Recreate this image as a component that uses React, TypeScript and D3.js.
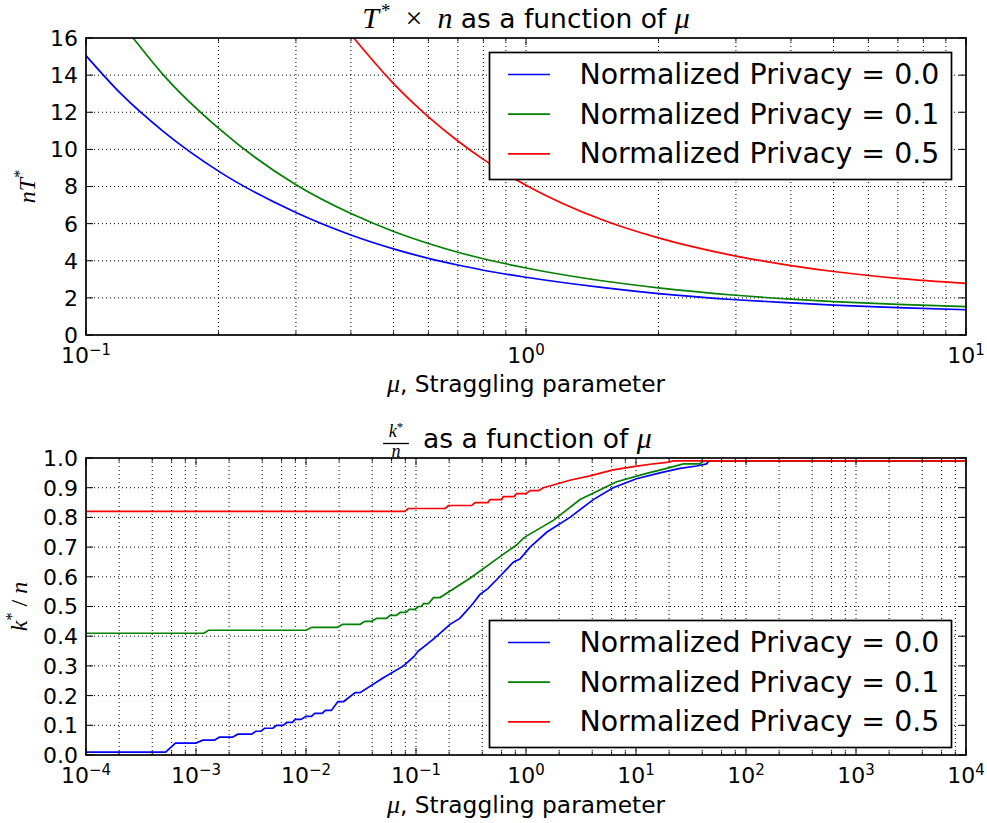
import { useEffect, useRef } from 'react';
import * as d3 from 'd3';

const SANS = '"DejaVu Sans", sans-serif';
const MATH = '"Liberation Serif", "DejaVu Serif", serif';

const seriesNames = ['Normalized Privacy = 0.0', 'Normalized Privacy = 0.1', 'Normalized Privacy = 0.5'];
const seriesColors = ['#0000ff', '#008000', '#ff0000'];

// top panel: nT* against mu
const topMuP0 = [0.1, 0.12, 0.15, 0.2, 0.3, 0.4, 0.5, 0.6, 0.7, 0.8, 1, 1.5, 2, 3, 4, 5, 7, 10];
const topNTP0 = [15.05, 13.0, 10.96, 8.83, 6.6, 5.39, 4.64, 4.13, 3.77, 3.49, 3.11, 2.55, 2.23, 1.9, 1.73, 1.61, 1.48, 1.36];
const topMuP1 = [0.128, 0.15, 0.2, 0.3, 0.4, 0.5, 0.6, 0.7, 0.8, 1, 1.5, 2, 3, 4, 5, 7, 10];
const topNTP1 = [16, 14.0, 11.14, 8.09, 6.54, 5.58, 4.93, 4.46, 4.11, 3.61, 2.91, 2.54, 2.14, 1.93, 1.8, 1.65, 1.53];
const topMuP5 = [0.406, 0.5, 0.6, 0.7, 0.8, 1, 1.5, 2, 3, 4, 5, 7, 10];
const topNTP5 = [16, 13.54, 11.75, 10.45, 9.46, 8.07, 6.18, 5.23, 4.25, 3.74, 3.42, 3.05, 2.78];

// bottom panel: k*/n against mu
const botMuP0 = [1e-4, 5.3e-4, 6.5e-4, 1.0e-3, 1.15e-3, 1.47e-3, 1.63e-3, 2.15e-3, 2.4e-3, 3.2e-3, 3.5e-3, 3.9e-3, 4.2e-3, 5.0e-3, 5.4e-3, 6.2e-3, 6.7e-3, 7.5e-3, 8.0e-3, 9.0e-3, 1.0e-2, 1.12e-2, 1.2e-2, 1.4e-2, 1.5e-2, 1.7e-2, 1.95e-2, 2.2e-2, 2.8e-2, 3.1e-2, 5.05e-2, 7.7e-2, 9.5e-2, 0.105, 0.144, 0.177, 0.204, 0.25, 0.28, 0.33, 0.38, 0.45, 0.54, 0.77, 0.88, 1.09, 1.17, 1.54, 2.51, 4.09, 6.2, 10.1, 16.5, 25.1, 35.6, 43.7, 46, 1e4];
const botKP0 = [0.01, 0.01, 0.04, 0.04, 0.05, 0.05, 0.06, 0.06, 0.07, 0.07, 0.08, 0.08, 0.09, 0.09, 0.1, 0.1, 0.11, 0.11, 0.12, 0.12, 0.13, 0.13, 0.14, 0.14, 0.15, 0.15, 0.18, 0.18, 0.21, 0.21, 0.26, 0.3, 0.33, 0.35, 0.39, 0.42, 0.44, 0.46, 0.48, 0.51, 0.54, 0.56, 0.59, 0.65, 0.66, 0.7, 0.71, 0.75, 0.8, 0.86, 0.9, 0.93, 0.95, 0.965, 0.973, 0.98, 0.99, 0.99];
const botMuP1 = [1e-4, 1.18e-3, 1.3e-3, 1.0e-2, 1.13e-2, 1.93e-2, 2.15e-2, 3.1e-2, 3.43e-2, 3.95e-2, 4.4e-2, 5.4e-2, 5.8e-2, 6.6e-2, 7.2e-2, 8.1e-2, 8.7e-2, 9.8e-2, 0.105, 0.112, 0.117, 0.13, 0.144, 0.165, 0.31, 0.58, 0.82, 0.95, 1.01, 1.77, 3.1, 5.05, 6.67, 12.5, 19, 27, 38, 41, 1e4];
const botKP1 = [0.41, 0.41, 0.42, 0.42, 0.43, 0.43, 0.44, 0.44, 0.45, 0.45, 0.46, 0.46, 0.47, 0.47, 0.48, 0.48, 0.49, 0.49, 0.5, 0.5, 0.51, 0.51, 0.53, 0.53, 0.595, 0.668, 0.707, 0.73, 0.737, 0.79, 0.86, 0.898, 0.92, 0.948, 0.965, 0.98, 0.98, 0.99, 0.99];
const botMuP5 = [1e-4, 7.9e-2, 8.5e-2, 0.184, 0.197, 0.32, 0.344, 0.45, 0.47, 0.6, 0.62, 0.78, 0.82, 1.0, 1.09, 1.3, 1.44, 1.8, 2.5, 3.8, 6.2, 9.5, 13.4, 19, 21.8, 1e4];
const botKP5 = [0.82, 0.82, 0.83, 0.83, 0.84, 0.84, 0.85, 0.85, 0.86, 0.86, 0.87, 0.87, 0.88, 0.88, 0.89, 0.89, 0.9, 0.91, 0.925, 0.94, 0.96, 0.971, 0.979, 0.985, 0.99, 0.99];

const topYTicks = [0, 2, 4, 6, 8, 10, 12, 14, 16];
const topXExponents = [-1, 0, 1];
const topMinorSubs = [2, 3, 4, 5, 6, 7, 8, 9];
const botYTicks = [0, 0.1, 0.2, 0.3, 0.4, 0.5, 0.6, 0.7, 0.8, 0.9, 1.0];
const botXExponents = [-4, -3, -2, -1, 0, 1, 2, 3, 4];
const botMinorSubs = [2, 4, 6, 8];

type Sel = d3.Selection<any, any, any, any>;

interface PanelOpts {
  id: string;
  top: number;
  bottom: number;
  exps: number[];
  subs: number[];
  yTicks: number[];
  yFmt: (v: number) => string;
  series: { mu: number[]; v: number[] }[];
  smooth: boolean;
  legendTop: number;
}

const LEFT = 86;
const RIGHT = 966;
const TICK_FS = 22;

function drawPanel(root: Sel, o: PanelOpts) {
  const x = d3.scaleLog()
    .domain([10 ** o.exps[0], 10 ** o.exps[o.exps.length - 1]])
    .range([LEFT, RIGHT]);
  const y = d3.scaleLinear()
    .domain([o.yTicks[0], o.yTicks[o.yTicks.length - 1]])
    .range([o.bottom, o.top]);

  const majors = o.exps.map(e => 10 ** e);
  const minors: number[] = [];
  for (let i = 0; i < o.exps.length - 1; i++) {
    for (const s of o.subs) minors.push(s * 10 ** o.exps[i]);
  }

  const g = root.append('g');
  g.append('clipPath').attr('id', o.id)
    .append('rect')
    .attr('x', LEFT).attr('y', o.top)
    .attr('width', RIGHT - LEFT).attr('height', o.bottom - o.top);

  // dotted grid, x on majors + minors, y on majors
  const grid = g.append('g')
    .attr('stroke', '#000')
    .attr('stroke-width', 1)
    .attr('stroke-dasharray', '1,3');
  grid.selectAll('line.gx')
    .data([...majors.slice(1, -1), ...minors])
    .join('line')
    .attr('x1', d => x(d)).attr('x2', d => x(d))
    .attr('y1', o.top).attr('y2', o.bottom);
  grid.selectAll('line.gy')
    .data(o.yTicks.slice(1, -1))
    .join('line')
    .attr('x1', LEFT).attr('x2', RIGHT)
    .attr('y1', d => y(d)).attr('y2', d => y(d));

  // curves
  const line = d3.line<[number, number]>()
    .x(d => x(d[0]))
    .y(d => y(d[1]))
    .curve(o.smooth ? d3.curveMonotoneX : d3.curveLinear);
  const curves = g.append('g').attr('clip-path', `url(#${o.id})`);
  o.series.forEach((s, i) => {
    const pts = s.mu.map((m, j) => [m, s.v[j]] as [number, number]);
    curves.append('path')
      .attr('d', line(pts))
      .attr('fill', 'none')
      .attr('stroke', seriesColors[i])
      .attr('stroke-width', 1.7);
  });

  // ticks pointing inwards on all four sides
  const ticks = g.append('g').attr('stroke', '#000').attr('stroke-width', 1);
  const xTicks = [...majors.map(v => ({ v, len: 7 })), ...minors.map(v => ({ v, len: 3.5 }))];
  xTicks.forEach(t => {
    ticks.append('line').attr('x1', x(t.v)).attr('x2', x(t.v)).attr('y1', o.bottom).attr('y2', o.bottom - t.len);
    ticks.append('line').attr('x1', x(t.v)).attr('x2', x(t.v)).attr('y1', o.top).attr('y2', o.top + t.len);
  });
  o.yTicks.forEach(v => {
    ticks.append('line').attr('x1', LEFT).attr('x2', LEFT + 7).attr('y1', y(v)).attr('y2', y(v));
    ticks.append('line').attr('x1', RIGHT).attr('x2', RIGHT - 7).attr('y1', y(v)).attr('y2', y(v));
  });

  // frame
  g.append('rect')
    .attr('x', LEFT).attr('y', o.top)
    .attr('width', RIGHT - LEFT).attr('height', o.bottom - o.top)
    .attr('fill', 'none').attr('stroke', '#000').attr('stroke-width', 1.7);

  // y tick labels
  g.append('g')
    .selectAll('text')
    .data(o.yTicks)
    .join('text')
    .attr('x', LEFT - 8)
    .attr('y', d => y(d))
    .attr('dy', '0.36em')
    .attr('text-anchor', 'end')
    .attr('font-family', SANS)
    .attr('font-size', TICK_FS)
    .text(d => o.yFmt(d));

  // x tick labels as 10^e
  o.exps.forEach(e => {
    const t = g.append('text')
      .attr('x', x(10 ** e))
      .attr('y', o.bottom + 28)
      .attr('text-anchor', 'middle')
      .attr('font-family', SANS)
      .attr('font-size', TICK_FS);
    t.append('tspan').text('10');
    t.append('tspan').attr('dy', -8).attr('font-size', 15).text(e < 0 ? `\u2212${-e}` : `${e}`);
  });

  // legend
  const lg = g.append('g');
  lg.append('rect')
    .attr('x', 489.5).attr('y', o.legendTop)
    .attr('width', 462).attr('height', 127)
    .attr('fill', '#fff').attr('stroke', '#000').attr('stroke-width', 1.7);
  seriesNames.forEach((name, i) => {
    const cy = o.legendTop + 22 + i * 39.7;
    lg.append('line')
      .attr('x1', 508).attr('x2', 550)
      .attr('y1', cy).attr('y2', cy)
      .attr('stroke', seriesColors[i]).attr('stroke-width', 1.7);
    lg.append('text')
      .attr('x', 579.5)
      .attr('y', cy + 9.5)
      .attr('font-family', SANS)
      .attr('font-size', 28.4)
      .text(name);
  });
}

function mathSpan(t: Sel, s: string) {
  return t.append('tspan').attr('font-family', MATH).attr('font-style', 'italic').text(s);
}

export default function App() {
  const ref = useRef<SVGSVGElement>(null);

  useEffect(() => {
    if (!ref.current) return;
    const svg = d3.select(ref.current);
    svg.selectAll('*').remove();

    drawPanel(svg, {
      id: 'clipTop',
      top: 38,
      bottom: 335,
      exps: topXExponents,
      subs: topMinorSubs,
      yTicks: topYTicks,
      yFmt: v => `${v}`,
      series: [
        { mu: topMuP0, v: topNTP0 },
        { mu: topMuP1, v: topNTP1 },
        { mu: topMuP5, v: topNTP5 }
      ],
      smooth: true,
      legendTop: 52.5
    });
    drawPanel(svg, {
      id: 'clipBot',
      top: 458,
      bottom: 755,
      exps: botXExponents,
      subs: botMinorSubs,
      yTicks: botYTicks,
      yFmt: v => v.toFixed(1),
      series: [
        { mu: botMuP0, v: botKP0 },
        { mu: botMuP1, v: botKP1 },
        { mu: botMuP5, v: botKP5 }
      ],
      smooth: false,
      legendTop: 620.5
    });

    // titles
    const t1 = svg.append('text')
      .attr('x', 526).attr('y', 28)
      .attr('text-anchor', 'middle')
      .attr('font-family', SANS)
      .attr('font-size', 26.5);
    mathSpan(t1, 'T').attr('font-size', 30);
    t1.append('tspan').attr('dx', 2).attr('dy', -11).attr('font-size', 19).attr('font-family', MATH).text('*');
    t1.append('tspan').attr('dy', 11).attr('font-family', MATH).attr('font-size', 30).text('\u2002\u00d7\u2002');
    mathSpan(t1, 'n').attr('font-size', 30);
    t1.append('tspan').text(' as a function of ');
    mathSpan(t1, '\u03bc').attr('font-size', 30);

    // fraction k*/n
    const fx = 396;
    const fr = svg.append('g').attr('font-family', MATH).attr('font-style', 'italic');
    const kt = fr.append('text').attr('x', fx).attr('y', 437).attr('text-anchor', 'middle').attr('font-size', 18);
    kt.append('tspan').text('k');
    kt.append('tspan').attr('dy', -6).attr('font-size', 13).attr('font-style', 'normal').text('*');
    fr.append('line').attr('x1', fx - 13).attr('x2', fx + 13).attr('y1', 443.5).attr('y2', 443.5)
      .attr('stroke', '#000').attr('stroke-width', 1.3);
    fr.append('text').attr('x', fx).attr('y', 457).attr('text-anchor', 'middle').attr('font-size', 18).text('n');
    const t2 = svg.append('text')
      .attr('x', 423).attr('y', 448)
      .attr('font-family', SANS)
      .attr('font-size', 26.5);
    t2.append('tspan').text('as a function of ');
    mathSpan(t2, '\u03bc').attr('font-size', 30);

    // x axis labels
    [392, 813].forEach(yy => {
      const t = svg.append('text')
        .attr('x', 526).attr('y', yy)
        .attr('text-anchor', 'middle')
        .attr('font-family', SANS)
        .attr('font-size', 23.3);
      mathSpan(t, '\u03bc').attr('font-size', 26);
      t.append('tspan').text(', Straggling parameter');
    });

    // y axis labels (rotated)
    const yl1 = svg.append('text')
      .attr('transform', 'translate(35,186.5) rotate(-90)')
      .attr('text-anchor', 'middle')
      .attr('font-family', MATH)
      .attr('font-style', 'italic')
      .attr('font-size', 24);
    yl1.append('tspan').text('nT');
    yl1.append('tspan').attr('dy', -10).attr('font-size', 16).attr('font-style', 'normal').text('*');

    const yl2 = svg.append('text')
      .attr('transform', 'translate(27,606.5) rotate(-90)')
      .attr('text-anchor', 'middle')
      .attr('font-family', MATH)
      .attr('font-style', 'italic')
      .attr('font-size', 24);
    yl2.append('tspan').text('k');
    yl2.append('tspan').attr('dy', -10).attr('font-size', 16).attr('font-style', 'normal').text('*');
    yl2.append('tspan').attr('dy', 10).attr('font-style', 'normal').text(' / ');
    yl2.append('tspan').text('n');
  }, []);

  return (
    <div style={{ position: 'absolute', left: 0, top: 0, background: '#fff' }}>
      <svg ref={ref} width={987} height={823} viewBox="0 0 987 823" style={{ display: 'block' }} />
    </div>
  );
}
